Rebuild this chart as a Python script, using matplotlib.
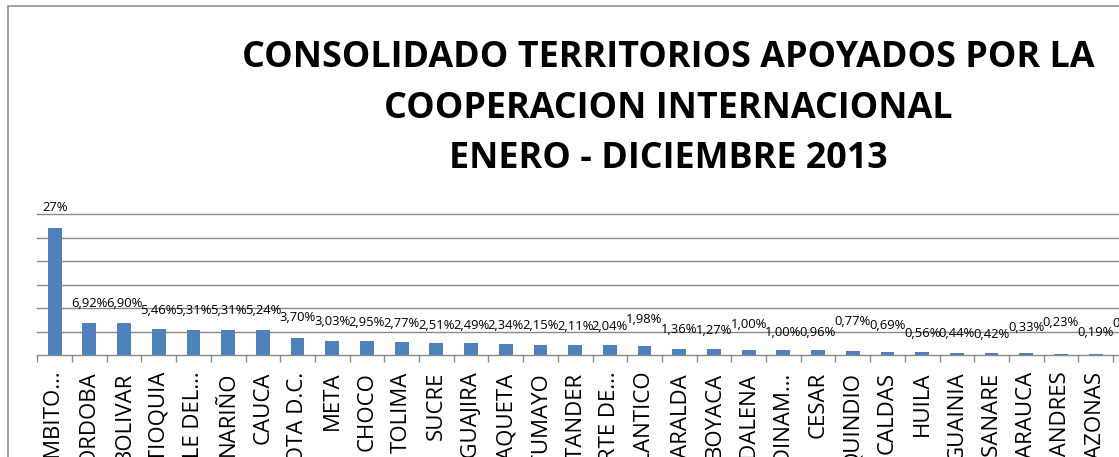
import matplotlib
matplotlib.use("Agg")
import matplotlib.pyplot as plt
from matplotlib.patches import Rectangle

# --- data (percent of supported territories) ---
categories = ["AMBITO…", "CORDOBA", "BOLIVAR", "ANTIOQUIA", "VALLE DEL…",
              "NARIÑO", "CAUCA", "BOGOTA D.C.", "META", "CHOCO", "TOLIMA",
              "SUCRE", "LA GUAJIRA", "CAQUETA", "PUTUMAYO", "SANTANDER",
              "NORTE DE…", "ATLANTICO", "RISARALDA", "BOYACA", "MAGDALENA",
              "CUNDINAM…", "CESAR", "QUINDIO", "CALDAS", "HUILA", "GUAINIA",
              "CASANARE", "ARAUCA", "SAN ANDRES", "AMAZONAS", "GUAVIARE",
              "VAUPES", "VICHADA"]
values = [27.0, 6.92, 6.90, 5.46, 5.31, 5.31, 5.24, 3.70, 3.03, 2.95, 2.77,
          2.51, 2.49, 2.34, 2.15, 2.11, 2.04, 1.98, 1.36, 1.27, 1.00, 1.00,
          0.96, 0.77, 0.69, 0.56, 0.44, 0.42, 0.33, 0.23, 0.19, 0.19, 0.19,
          0.19]
title_lines = ["CONSOLIDADO TERRITORIOS APOYADOS POR LA",
               "COOPERACION INTERNACIONAL",
               "ENERO - DICIEMBRE 2013"]

# extra lift (px) of some data labels, Excel staggered them to avoid overlap
label_lift = [2, 0, 0, 0, 1, 1, 1, 1, 0, 0, 0, -1, -1, 0, 0, 0, 0, 7, 0, 0,
              7, -1, -1, 11, 7, 0, 0, 0, 7, 12, 3, 12, 0, 0]

W, H = 1119, 457
BLUE = "#4F81BD"
GRAY = "#898989"
FONT = "Open Sans"

def fmt(v):
    return f"{v:.2f}%".replace(".", ",")

labels = [fmt(v) for v in values]
labels[0] = "27%"

fig = plt.figure(figsize=(W / 100, H / 100), dpi=100)
fig.patch.set_facecolor("white")

# chart border (continues past the cropped right/bottom edges)
fig.add_artist(Rectangle((7.5 / W, -1), 2, 2 - 6 / H, transform=fig.transFigure,
                         fill=False, ec=GRAY, lw=1.1))

# plot area: baseline at y=355px, 30% gridline at y=214px, 34.7px per category
n = len(categories)
step = 34.7
x0, base, top = 37.3, 355.0, 214.3
ax = fig.add_axes([x0 / W, (H - base) / H, n * step / W, (base - top) / H])
xs = list(range(n))
ax.bar(xs, values, width=0.4, color=BLUE, zorder=3)
ax.set_xlim(-0.5, n - 0.5)
ax.set_ylim(0, 30)
ax.set_yticks(range(5, 31, 5))
ax.yaxis.grid(True, color=GRAY, lw=1.0, zorder=0)
for g in ax.get_ygridlines():
    g.set_clip_on(False)
ax.tick_params(axis="y", left=False, labelleft=False)
for s in ("top", "right", "left"):
    ax.spines[s].set_visible(False)
ax.spines["bottom"].set_color(GRAY)
ax.spines["bottom"].set_linewidth(1.0)

ax.set_xticks(xs)
ax.set_xticklabels(categories, rotation=90, fontsize=16, family=FONT)
ax.tick_params(axis="x", which="major", length=0, pad=12)
ax.set_xticks([i - 0.5 for i in range(n + 1)], minor=True)
ax.tick_params(axis="x", which="minor", length=5, width=1.0, color=GRAY,
               direction="out")

px = 0.72  # points per pixel at 100 dpi
for i, (v, lab) in enumerate(zip(values, labels)):
    ax.annotate(lab, (i, v), xytext=(0, (19 + label_lift[i]) * px),
                textcoords="offset points", ha="center", va="center",
                fontsize=9.4, family=FONT, annotation_clip=False)

# title: fit the first line to its width in the reference (243..1093 px)
renderer = fig.canvas.get_renderer()
cx = 668 / W
baselines = [66.7, 118.0, 168.0]
probe = fig.text(cx, 0.5, title_lines[0], fontsize=28, weight="bold",
                 family=FONT, ha="center")
w = probe.get_window_extent(renderer).width
probe.remove()
tsize = 28 * 850 / w
for line, yb in zip(title_lines, baselines):
    fig.text(cx, (H - yb) / H, line, fontsize=tsize, weight="bold",
             family=FONT, ha="center", va="baseline")

fig.savefig("out.png", dpi=100)
